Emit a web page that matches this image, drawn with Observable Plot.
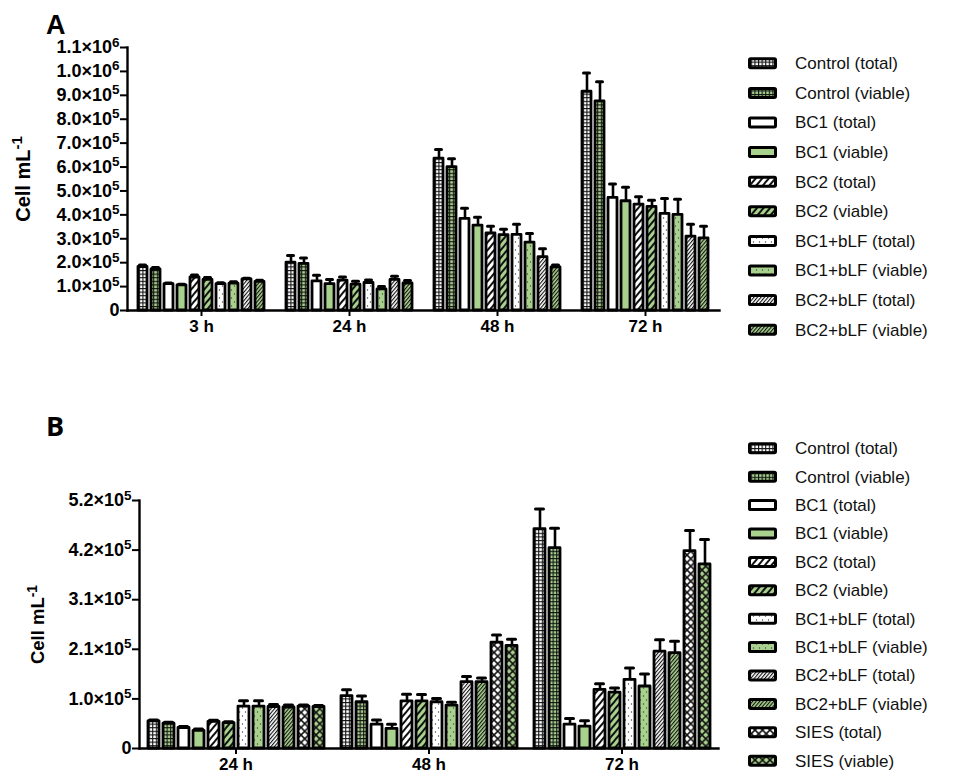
<!DOCTYPE html>
<html><head><meta charset="utf-8">
<script src="https://cdn.jsdelivr.net/npm/d3@7"></script>
<script src="https://cdn.jsdelivr.net/npm/@observablehq/plot@0.6"></script>
<style>
body{margin:0;background:#fff;}
#root{position:relative;width:956px;height:773px;overflow:hidden;background:#fff;font-family:"Liberation Sans",Arial,sans-serif;}
#root svg{position:absolute;}
</style></head><body><div id="root"></div>
<script>
// ---------- DATA ----------
const seriesA = ["Control (total)","Control (viable)","BC1 (total)","BC1 (viable)","BC2 (total)","BC2 (viable)","BC1+bLF (total)","BC1+bLF (viable)","BC2+bLF (total)","BC2+bLF (viable)"];
const seriesB = [...seriesA, "SIES (total)", "SIES (viable)"];
const timesA = ["3 h","24 h","48 h","72 h"];
const timesB = ["24 h","48 h","72 h"];

// Panel A values (cells/mL), order = seriesA
const a3h    = [1.82e5, 1.72e5, 1.10e5, 1.05e5, 1.38e5, 1.28e5, 1.10e5, 1.12e5, 1.30e5, 1.20e5];
const a3hErr = [0.08e5, 0.08e5, 0.05e5, 0.05e5, 0.10e5, 0.10e5, 0.06e5, 0.08e5, 0.05e5, 0.06e5];
const a24h    = [2.00e5, 1.95e5, 1.22e5, 1.10e5, 1.25e5, 1.08e5, 1.15e5, 0.88e5, 1.28e5, 1.13e5];
const a24hErr = [0.30e5, 0.25e5, 0.25e5, 0.20e5, 0.15e5, 0.14e5, 0.13e5, 0.12e5, 0.15e5, 0.12e5];
const a48h    = [6.35e5, 6.00e5, 3.83e5, 3.55e5, 3.22e5, 3.15e5, 3.16e5, 2.84e5, 2.23e5, 1.80e5];
const a48hErr = [0.38e5, 0.35e5, 0.45e5, 0.35e5, 0.30e5, 0.25e5, 0.45e5, 0.38e5, 0.35e5, 0.10e5];
const a72h    = [9.15e5, 8.75e5, 4.71e5, 4.57e5, 4.43e5, 4.33e5, 4.04e5, 4.00e5, 3.09e5, 3.02e5];
const a72hErr = [0.78e5, 0.82e5, 0.58e5, 0.58e5, 0.33e5, 0.28e5, 0.64e5, 0.65e5, 0.52e5, 0.50e5];

// Panel B values (cells/mL), order = seriesB
const b24h    = [0.57e5, 0.52e5, 0.43e5, 0.37e5, 0.56e5, 0.53e5, 0.88e5, 0.88e5, 0.87e5, 0.86e5, 0.88e5, 0.87e5];
const b24hErr = [0.03e5, 0.03e5, 0.03e5, 0.04e5, 0.03e5, 0.03e5, 0.12e5, 0.12e5, 0.05e5, 0.05e5, 0.03e5, 0.03e5];
const b48h    = [1.10e5, 0.97e5, 0.50e5, 0.41e5, 0.99e5, 0.99e5, 0.97e5, 0.90e5, 1.39e5, 1.39e5, 2.22e5, 2.15e5];
const b48hErr = [0.13e5, 0.13e5, 0.10e5, 0.10e5, 0.15e5, 0.14e5, 0.08e5, 0.07e5, 0.12e5, 0.09e5, 0.16e5, 0.14e5];
const b72h    = [4.60e5, 4.20e5, 0.50e5, 0.46e5, 1.23e5, 1.17e5, 1.44e5, 1.30e5, 2.03e5, 2.00e5, 4.14e5, 3.86e5];
const b72hErr = [0.42e5, 0.42e5, 0.13e5, 0.12e5, 0.13e5, 0.10e5, 0.25e5, 0.26e5, 0.25e5, 0.25e5, 0.43e5, 0.52e5];

const yTicksA = [0, 1e5, 2e5, 3e5, 4e5, 5e5, 6e5, 7e5, 8e5, 9e5, 1.0e6, 1.1e6];
const yTicksB = [0, 1.04e5, 2.08e5, 3.12e5, 4.16e5, 5.2e5];

// ---------- STYLE ----------
const GREEN = "#a9d18e";
const kinds = ["grid","grid","plain","plain","diag","diag","dots","dots","fine","fine","cross","cross"];
const FONT = "'Liberation Sans', Arial, sans-serif";

const root = d3.select("#root");
const defs = root.append("svg").attr("width",0).attr("height",0).append("defs");
function addPattern(id, kind, bg){
  const p = defs.append("pattern").attr("id",id).attr("patternUnits","userSpaceOnUse");
  let w=4,h=4;
  if(kind==="grid"){w=h=3.6;}
  else if(kind==="diag"){w=5;h=10;p.attr("patternTransform","rotate(40)");}
  else if(kind==="fine"){w=2.7;h=10;p.attr("patternTransform","rotate(40)");}
  else if(kind==="dots"){w=6;h=8;}
  else if(kind==="cross"){w=7.5;h=7.5;}
  p.attr("width",w).attr("height",h);
  p.append("rect").attr("width",w).attr("height",h).attr("fill",bg);
  if(kind==="grid"){
    p.append("rect").attr("width",w).attr("height",1.1).attr("fill","#111");
    p.append("rect").attr("width",1.1).attr("height",h).attr("fill","#111");
  }
  if(kind==="diag") p.append("rect").attr("width",2).attr("height",h).attr("fill","#111");
  if(kind==="fine") p.append("rect").attr("width",1.1).attr("height",h).attr("fill","#111");
  if(kind==="dots"){
    p.append("circle").attr("cx",1.5).attr("cy",2).attr("r",0.7).attr("fill","#444");
    p.append("circle").attr("cx",4.5).attr("cy",6).attr("r",0.7).attr("fill","#444");
  }
  if(kind==="cross") p.append("path").attr("d",`M0,0L${w},${h}M${w},0L0,${h}`).attr("stroke","#111").attr("stroke-width",1.6);
}
kinds.forEach((k,j)=> addPattern("pat"+j, k, j%2 ? GREEN : "#fff"));

function rows(times, series, vals, errs){
  const out=[];
  times.forEach((t,i)=> series.forEach((s,j)=> out.push({time:t, series:s, value:vals[i][j], err:errs[i][j]})));
  return out;
}
function sciFmt(d){
  if(d===0) return "0";
  const e=Math.floor(Math.log10(d)+1e-9);
  return (d/10**e).toFixed(1)+"×10^"+e;
}
function supify(svg){
  d3.select(svg).selectAll('g[aria-label="y-axis tick label"] text, g[aria-label="y-axis label"] text').each(function(){
    const parts=this.textContent.split("^");
    if(parts.length===2){
      this.textContent=parts[0];
      d3.select(this).append("tspan").attr("dy","-0.5em").attr("font-size","0.75em").text(parts[1]);
    }
  });
}

function chart(cfg){
  const data = rows(cfg.times, cfg.series, cfg.vals, cfg.errs);
  const bars = cfg.series.map((s,j)=> Plot.barY(data.filter(d=>d.series===s), {
    fx:"time", x:"series", y:"value", fill:`url(#pat${j})`, stroke:"black", strokeWidth:2.8, strokeLinejoin:"round"}));
  const svg = Plot.plot({
    width: cfg.width, height: cfg.height,
    marginLeft: cfg.ml, marginRight: cfg.mr, marginTop: cfg.mt, marginBottom: cfg.mb,
    fx: {domain: cfg.times, paddingInner: 0, paddingOuter: 0, label: null},
    x: {domain: cfg.series, paddingInner: 0.3, paddingOuter: cfg.xpo, axis: null},
    y: {domain: cfg.ydomain},
    style: {fontFamily: FONT, fontWeight: "bold", fontSize: "17px", color: "black", background: "transparent", overflow: "visible"},
    marks: [
      ...bars,
      Plot.ruleX(data, {fx:"time", x:"series", y1:"value", y2:d=>d.value+d.err, stroke:"black", strokeWidth:2.6}),
      Plot.tickY(data, {fx:"time", x:"series", y:d=>d.value+d.err, stroke:"black", strokeWidth:3, insetLeft:1.5, insetRight:1.5, strokeLinecap:"round"}),
      Plot.frame({anchor:"left", facet:"super", stroke:"black", strokeWidth:2.4}),
      Plot.frame({anchor:"bottom", facet:"super", stroke:"black", strokeWidth:2.4}),
      Plot.axisY({ticks: cfg.yticks, tickSize: 7, tickPadding: 1, tickFormat: sciFmt, strokeWidth: 2,
        label: "Cell mL^-1", labelAnchor: "center", labelOffset: cfg.labelOffset, labelArrow: "none", fontSize: 18}),
      Plot.axisFx({anchor:"bottom", tickSize: 6, tickPadding: 3, strokeWidth: 2, label: null, fontSize: 17})
    ]
  });
  supify(svg);
  d3.select(svg).selectAll('g[aria-label="y-axis label"] text').style("font-size", cfg.labelSize+"px");
  svg.style.left="0px"; svg.style.top=cfg.top+"px";
  root.node().appendChild(svg);
}

chart({times: timesA, series: seriesA, vals:[a3h,a24h,a48h,a72h], errs:[a3hErr,a24hErr,a48hErr,a72hErr],
  width: 740, height: 340, ml: 125, mr: 20, mt: 47, mb: 30, xpo: 0.58, ydomain:[0,1.1e6], yticks: yTicksA,
  labelOffset: 112, labelSize: 20, top: 0});
chart({times: timesB, series: seriesB, vals:[b24h,b48h,b72h], errs:[b24hErr,b48hErr,b72hErr],
  width: 740, height: 323, ml: 138, mr: 22, mt: 50, mb: 25, xpo: 0.515, ydomain:[0,5.2e5], yticks: yTicksB,
  labelOffset: 109, labelSize: 18.5, top: 450});

// ---------- LEGENDS ----------
function legend(series, top, y0, step){
  const g = root.append("svg").attr("width",216).attr("height",400).style("left","740px").style("top",top+"px");
  series.forEach((s,j)=>{
    const y = y0 + j*step;
    g.append("rect").attr("x",9.5).attr("y",y-4.5).attr("width",26).attr("height",9)
      .attr("rx",1.2).attr("fill",`url(#pat${j})`).attr("stroke","black").attr("stroke-width",3);
    g.append("text").attr("x",55).attr("y",y).attr("dy","0.35em").attr("font-family",FONT)
      .attr("font-size",17).attr("fill","#111").text(s);
  });
}
legend(seriesA, 40, 23.3, 29.6);
legend(seriesB, 430, 18.3, 28.4);

// ---------- PANEL LETTERS ----------
const letters = root.append("svg").attr("width",956).attr("height",773).style("left","0px").style("top","0px").style("pointer-events","none");
letters.append("text").attr("x",46).attr("y",34).attr("font-family",FONT).attr("font-weight","bold").attr("font-size",27).text("A");
letters.append("text").attr("x",46).attr("y",436).attr("font-family","'Open Sans', "+FONT).attr("font-weight","bold").attr("font-size",27).text("B");
</script></body></html>
